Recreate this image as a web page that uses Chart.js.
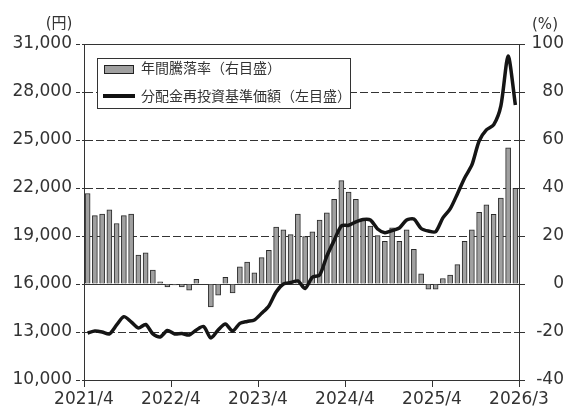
<!DOCTYPE html>
<html>
<head>
<meta charset="utf-8">
<script src="https://cdn.jsdelivr.net/npm/chart.js@4.4.1/dist/chart.umd.min.js"></script>
<style>
html, body { margin: 0; padding: 0; background: #fff; }
canvas { display: block; }
</style>
</head>
<body>
<canvas id="myChart" width="568" height="409"></canvas>
<script>
// 月 (2021/4 ~ 2026/3)
const months = [];
for (let i = 0; i < 60; i++) {
    const m = (3 + i) % 12 + 1;
    const y = 2021 + Math.floor((3 + i) / 12);
    months.push(y + '/' + m);
}

// 年間騰落率 (%) 右目盛
const returnRate = [
    37.7, 28.5, 29.1, 30.9, 25.2, 28.5, 29.1, 12.0, 13.0, 5.8,
    0.9, -1.2, -0.4, -1.2, -2.6, 1.9, 0, -9.5, -4.7, 2.8,
    -3.7, 7.2, 9.1, 4.7, 11.0, 14.0, 23.7, 22.6, 20.6, 29.1,
    19.8, 21.7, 26.6, 29.7, 35.3, 43.1, 38.3, 35.3, 26.6, 24.1,
    20.2, 17.8, 23.4, 17.8, 22.6, 14.4, 4.2, -2.2, -2.2, 2.3,
    3.7, 8.1, 17.8, 22.6, 29.9, 33.0, 29.0, 35.8, 56.7, 39.9
];

// 分配金再投資基準価額 (円) 左目盛
const navReinvest = [
    12940, 13060, 13000, 12880, 13440, 13960, 13630, 13250, 13470, 12880,
    12690, 13090, 12880, 12900, 12810, 13130, 13340, 12630, 13130, 13500,
    13060, 13540, 13660, 13750, 14170, 14630, 15500, 16000, 16090, 16190,
    15720, 16420, 16560, 17750, 18720, 19630, 19670, 19880, 20030, 20000,
    19440, 19210, 19340, 19500, 20000, 20060, 19470, 19310, 19270, 20130,
    20690, 21630, 22630, 23440, 24940, 25630, 25940, 27130, 30250, 27190
];

const xTickLabels = ['2021/4', '2022/4', '2023/4', '2024/4', '2025/4', '2026/3'];
const seriesNames = ['年間騰落率（右目盛）', '分配金再投資基準価額（左目盛）'];
const leftUnit = '(円)';
const rightUnit = '(%)';

const tickFont = { family: '"DejaVu Sans", sans-serif', size: 17 };
const ink = '#333';

// 点線のグリッド (上下端と0のラインは実線)
function gridDash(ctx) {
    if (!ctx.tick) return [];
    const v = ctx.tick.value;
    if (v === 16000 || v === 10000 || v === 31000) return [];
    return [8, 3];
}

// 単位と凡例を描く
const extraText = {
    id: 'extraText',
    afterDraw(chart) {
        const c = chart.ctx;
        c.save();
        c.fillStyle = ink;
        c.font = '15px "DejaVu Sans", "Noto Sans CJK JP"';
        c.textAlign = 'center';
        c.textBaseline = 'middle';
        c.fillText(leftUnit, 59, 24);
        c.fillText(rightUnit, 545, 25);

        // 凡例
        c.fillStyle = '#fff';
        c.fillRect(97, 58, 253, 50);
        c.strokeStyle = ink;
        c.lineWidth = 1;
        c.strokeRect(97.5, 58.5, 253, 50);

        c.fillStyle = '#a0a0a0';
        c.fillRect(104, 65, 29, 8);
        c.strokeStyle = '#222';
        c.strokeRect(104.5, 65.5, 29, 8);

        c.strokeStyle = '#111';
        c.lineWidth = 4;
        c.beginPath();
        c.moveTo(103, 96);
        c.lineTo(135, 96);
        c.stroke();

        c.fillStyle = ink;
        c.font = '14px "Noto Sans CJK JP"';
        c.textAlign = 'left';
        c.fillText(seriesNames[0], 141, 68);
        c.fillText(seriesNames[1], 141, 96);
        c.restore();
    }
};

const ctx = document.getElementById('myChart');
const myChart = new Chart(ctx, {
    type: 'bar',
    data: {
        datasets: [
            {
                type: 'line',
                label: seriesNames[1],
                data: navReinvest.map((v, i) => ({ x: i + 0.5, y: v })),
                yAxisID: 'y',
                borderColor: '#151515',
                borderWidth: 3.5,
                pointRadius: 0,
                tension: 0.25,
                order: 0
            },
            {
                type: 'bar',
                label: seriesNames[0],
                data: returnRate.map((v, i) => ({ x: i + 0.5, y: v })),
                yAxisID: 'y1',
                backgroundColor: '#a0a0a0',
                borderColor: '#2a2a2a',
                borderWidth: 1,
                barThickness: 5,
                order: 1
            }
        ]
    },
    options: {
        responsive: false,
        animation: false,
        layout: { padding: { top: 44, left: 0, right: 4, bottom: 0 } },
        plugins: {
            legend: { display: false },
            tooltip: { enabled: false }
        },
        scales: {
            x: {
                type: 'linear',
                min: 0,
                max: 60,
                offset: false,
                ticks: {
                    stepSize: 12,
                    autoSkip: false,
                    maxRotation: 0,
                    padding: 2,
                    color: ink,
                    font: tickFont,
                    callback: (v) => xTickLabels[v / 12]
                },
                grid: { offset: false, drawOnChartArea: false, tickLength: 7, color: ink },
                border: { color: ink, width: 1 },
                afterFit: (scale) => { scale.height = 29; }
            },
            y: {
                position: 'left',
                min: 10000,
                max: 31000,
                ticks: {
                    stepSize: 3000,
                    padding: 4,
                    color: ink,
                    font: tickFont,
                    callback: (v) => v.toLocaleString('en-US')
                },
                grid: { color: ink, tickLength: 8, tickBorderDash: [4, 2] },
                border: { color: ink, width: 1, dash: gridDash },
                afterFit: (scale) => { scale.width = 84; }
            },
            y1: {
                position: 'right',
                min: -40,
                max: 100,
                ticks: {
                    stepSize: 20,
                    crossAlign: 'far',
                    color: ink,
                    font: tickFont
                },
                grid: { drawOnChartArea: false, color: ink, tickLength: 6 },
                border: { color: ink, width: 1 },
                afterFit: (scale) => { scale.width = 45; }
            }
        }
    },
    plugins: [extraText]
});
</script>
</body>
</html>
